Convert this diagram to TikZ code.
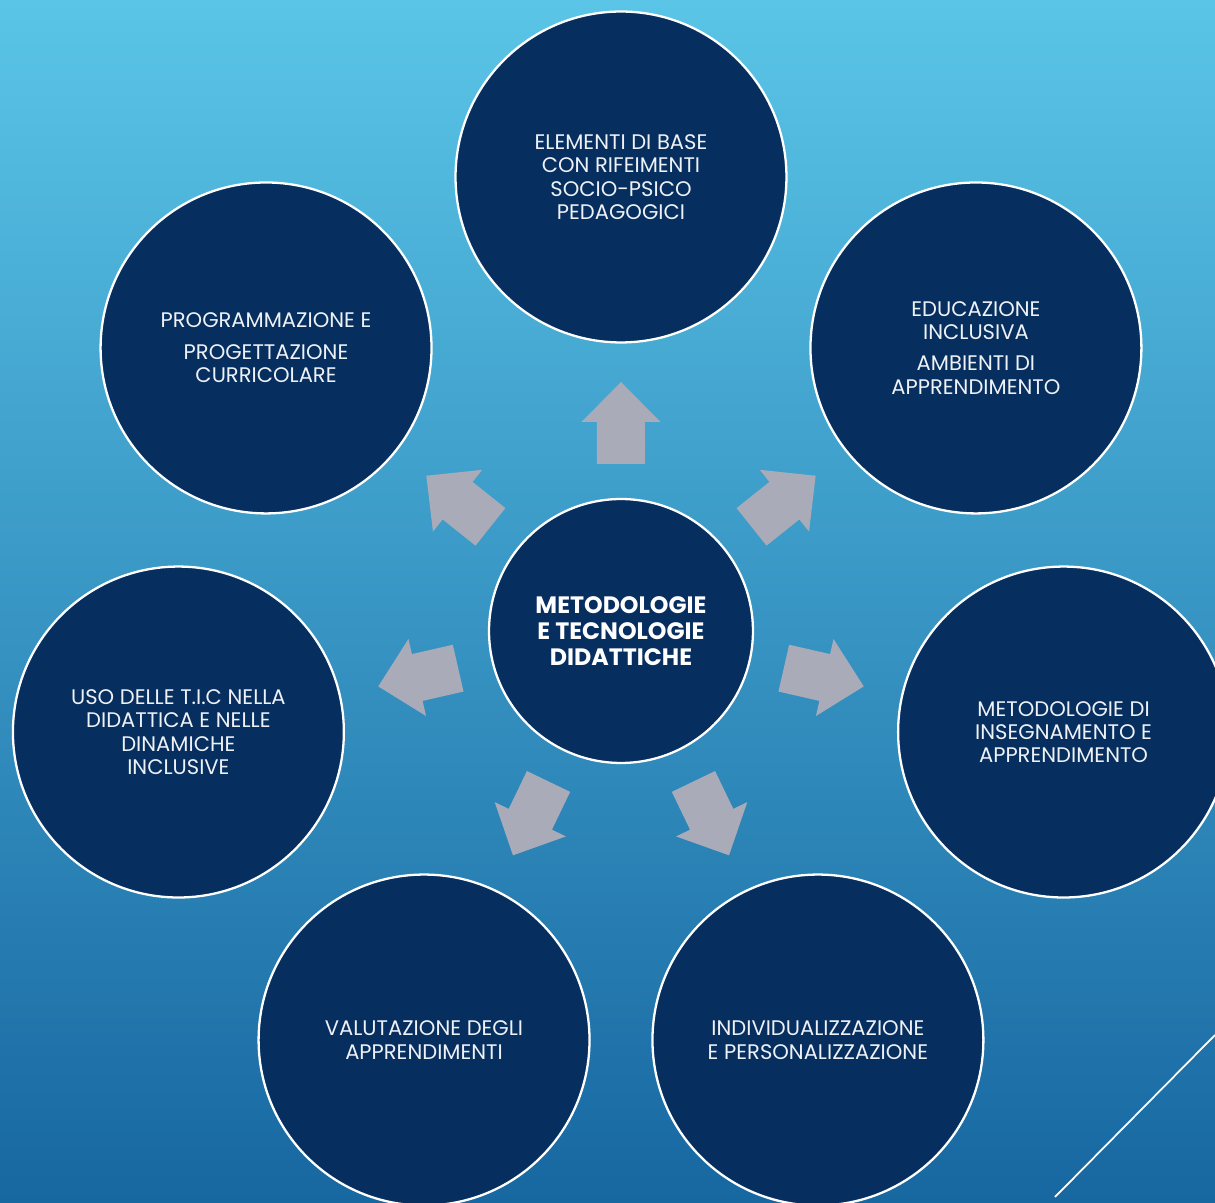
\documentclass[tikz,border=0pt]{standalone}
\usepackage{xcolor}
\usepackage{fontspec}
\setmainfont{Poppins}
\usetikzlibrary{positioning}

\definecolor{navy}{HTML}{062E5F}
\definecolor{bgtop}{HTML}{5AC5E7}
\definecolor{bgbot}{HTML}{1767A1}
\definecolor{arrowgray}{HTML}{A9ACB8}
\definecolor{txtgray}{HTML}{EEF1F5}

\begin{document}
\begin{tikzpicture}[x=0.02cm,y=0.02cm,
    main node/.style={circle,draw=white,line width=1.3pt,fill=navy,minimum size=6.62cm,
      inner sep=0pt,text=txtgray,align=center,font=\fontsize{12}{13.3}\selectfont},
    hub node/.style={main node,minimum size=5.28cm,text=white,
      font=\bfseries\fontsize{13.5}{15}\selectfont},
    block arrow/.style={fill=arrowgray}]

  \shade[top color=bgtop,bottom color=bgbot] (-621,-572) rectangle (594,631);
  \useasboundingbox (-621,-572) rectangle (594,631);

  \node[hub node] (0) at (0,0) {METODOLOGIE\\E TECNOLOGIE\\DIDATTICHE};

  \node[main node] (1) at (90:454) {ELEMENTI DI BASE\\CON RIFEIMENTI\\SOCIO-PSICO\\PEDAGOGICI};
  \node[main node] (2) at (38.57:454) {EDUCAZIONE\\INCLUSIVA\\[4.5pt]AMBIENTI DI\\APPRENDIMENTO};
  \node[main node] (3) at (-12.86:454) {METODOLOGIE DI\\INSEGNAMENTO E\\APPRENDIMENTO};
  \node[main node] (4) at (-64.29:454) {INDIVIDUALIZZAZIONE\\E PERSONALIZZAZIONE};
  \node[main node] (5) at (-115.71:454) {VALUTAZIONE DEGLI\\APPRENDIMENTI};
  \node[main node] (6) at (-167.14:454) {USO DELLE T.I.C NELLA\\DIDATTICA E NELLE\\DINAMICHE\\INCLUSIVE};
  \node[main node] (7) at (141.43:454) {PROGRAMMAZIONE E\\[4.5pt]PROGETTAZIONE\\CURRICOLARE};

  % block arrows from the hub towards each circle
  \foreach \n in {1,...,7}{
    \pgfmathsetmacro{\a}{90-(\n-1)*360/7}
    \fill[block arrow,rotate=\a] (167,-24) -- (209,-24) -- (209,-39.5) -- (249,0)
      -- (209,39.5) -- (209,24) -- (167,24) -- cycle;
  }

  \draw[white,line width=1pt] (594,-404) -- (434,-566);
\end{tikzpicture}
\end{document}
